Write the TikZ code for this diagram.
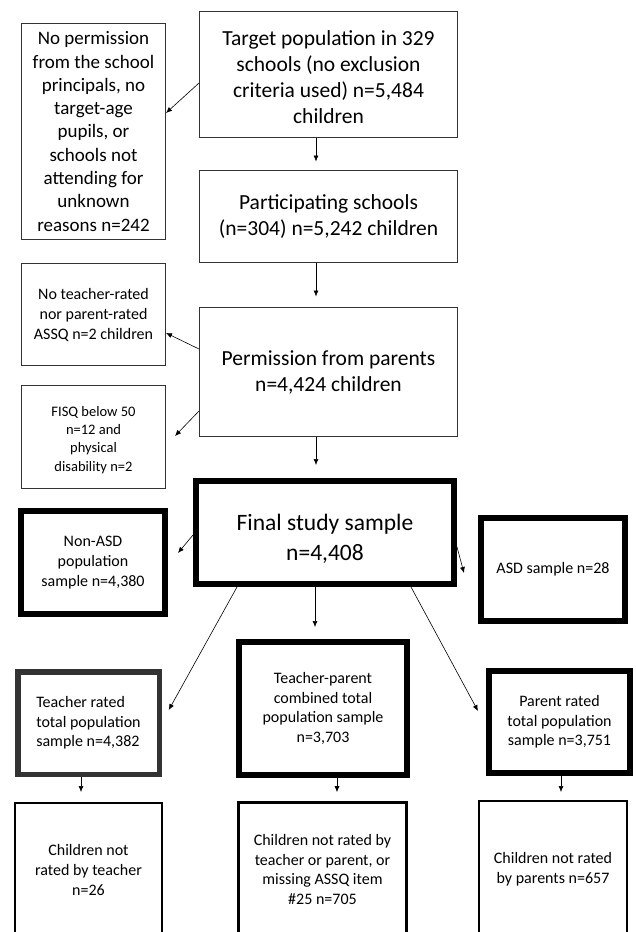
\documentclass[tikz,border=0pt]{standalone}
\usepackage{fontspec}
\setmainfont{Carlito}
\usetikzlibrary{arrows.meta}

\begin{document}
\begin{tikzpicture}[x=1pt, y=-1pt,
		thinbox/.style={draw=black!80, line width=1pt, inner sep=0pt, align=center},
		thickbox/.style={draw=black, line width=6pt, inner sep=0pt, align=center},
		lostbox/.style={draw=black, line width=2pt, inner sep=0pt, align=center},
		arr/.style={-{Latex[length=6pt, width=5pt]}, line width=0.6pt}]
		\clip (0,0) rectangle (636,932);
		
		\node [thinbox, minimum width=258pt, minimum height=126pt, font=\fontsize{21.5}{26}\selectfont] (target) at (328.5, 74.5) {\rule{0pt}{20pt}Target population in 329\\schools (no exclusion\\criteria used) n=5,484\\children};
		\node [thinbox, minimum width=144pt, minimum height=216pt, font=\fontsize{19}{23.3}\selectfont] (nopermit) at (93.5, 131.5) {No permission\\from the school\\principals, no\\target-age\\pupils, or\\schools not\\attending for\\unknown\\reasons n=242};
		\node [thinbox, minimum width=258pt, minimum height=92pt, font=\fontsize{21.5}{26}\selectfont] (schools) at (328.5, 216.5) {Participating schools\\(n=304) n=5,242 children};
		\node [thinbox, minimum width=258pt, minimum height=129pt, font=\fontsize{21.5}{26}\selectfont] (parents) at (328.5, 372) {Permission from parents\\n=4,424 children};
		\node [thinbox, minimum width=144pt, minimum height=102pt, font=\fontsize{16}{20}\selectfont] (norated) at (93.5, 314.5) {No teacher-rated\\nor parent-rated\\ASSQ n=2 children};
		\node [thinbox, minimum width=144pt, minimum height=103pt, font=\fontsize{14.5}{18.3}\selectfont] (fisq) at (93.5, 437) {\rule{0pt}{16pt}FISQ below 50\\n=12 and\\physical\\disability n=2};
		
		\node [thickbox, minimum width=258pt, minimum height=103pt, font=\fontsize{23.5}{30}\selectfont] (final) at (325, 532.5) {\rule{0pt}{29pt}Final study sample\\n=4,408};
		\node [thickbox, minimum width=144pt, minimum height=103pt, font=\fontsize{16}{20}\selectfont] (nonasd) at (93, 562.5) {Non-ASD\\population\\sample n=4,380};
		\node [thickbox, minimum width=144pt, minimum height=103pt, font=\fontsize{16}{20}\selectfont] (asd) at (553, 569.5) {ASD sample n=28};
		
		\node [thickbox, draw=black!80, line width=5.5pt, align=left, minimum width=141.5pt, minimum height=102.5pt, font=\fontsize{16}{19.5}\selectfont] (teacher) at (88.5, 723) {Teacher rated\\total population\\sample n=4,382};
		\node [thickbox, minimum width=168pt, minimum height=133pt, font=\fontsize{16}{19.5}\selectfont] (combined) at (323, 708.5) {Teacher-parent\\combined total\\population sample\\n=3,703};
		\node [thickbox, minimum width=141pt, minimum height=102pt, font=\fontsize{16}{19.5}\selectfont] (parent) at (559.5, 722) {Parent rated\\total population\\sample n=3,751};
		
		\node [lostbox, minimum width=147pt, minimum height=134pt, font=\fontsize{16}{20}\selectfont] (tbot) at (88.5, 870) {Children not\\rated by teacher\\n=26};
		\node [lostbox, line width=2.7pt, minimum width=168pt, minimum height=134pt, font=\fontsize{16}{19.5}\selectfont] (mbot) at (322.5, 869.5) {Children not rated by\\teacher or parent, or\\missing ASSQ item\\\#25 n=705};
		\node [lostbox, minimum width=148pt, minimum height=136pt, font=\fontsize{16}{19.5}\selectfont] (rbot) at (553, 869) {Children not rated\\by parents n=657};
		
		\draw [arr] ([yshift=-8.5pt]target.west) -- ([yshift=18.5pt]nopermit.east);
		\draw [arr, shorten >=8.5pt] ([xshift=-12.5pt]target.south) -- ([xshift=-12.5pt]schools.north);
		\draw [arr, shorten >=10.5pt] ([xshift=-12.5pt]schools.south) -- ([xshift=-12.5pt]parents.north);
		\draw [arr] ([yshift=23pt]parents.west) -- ([yshift=-18.5pt]norated.east);
		\draw [arr] ([yshift=-39pt]parents.west) -- ([xshift=9pt, yshift=1pt]fisq.east);
		\draw [arr, shorten >=13pt] ([xshift=-12.5pt]parents.south) -- ([xshift=-12.5pt]parents.south |- final.north);
		
		\draw [arr] ([yshift=-2.5pt]final.west) -- ([xshift=10pt, yshift=9.5pt]nonasd.east);
		\draw [arr] ([yshift=-14.5pt]final.east) -- ([xshift=-14pt, yshift=-3.5pt]asd.west);
		\draw [arr, shorten >=12pt] ([xshift=-10pt]final.south) -- ([xshift=-10pt]final.south |- combined.north);
		\draw [arr] ([xshift=-88pt]final.south) -- ([xshift=6.75pt, yshift=13pt]teacher.east);
		\draw [arr] ([xshift=86pt]final.south) -- ([xshift=-8pt, yshift=11pt]parent.west);
		
		\draw [arr, shorten >=10pt] ([xshift=-7.5pt]teacher.south) -- ([xshift=-7.5pt]teacher.south |- tbot.north);
		\draw [arr, shorten >=9pt] ([xshift=14pt]combined.south) -- ([xshift=14pt]combined.south |- mbot.north);
		\draw [arr, shorten >=8pt] ([xshift=1.5pt]parent.south) -- ([xshift=1.5pt]parent.south |- rbot.north);
		
\end{tikzpicture}
\end{document}
